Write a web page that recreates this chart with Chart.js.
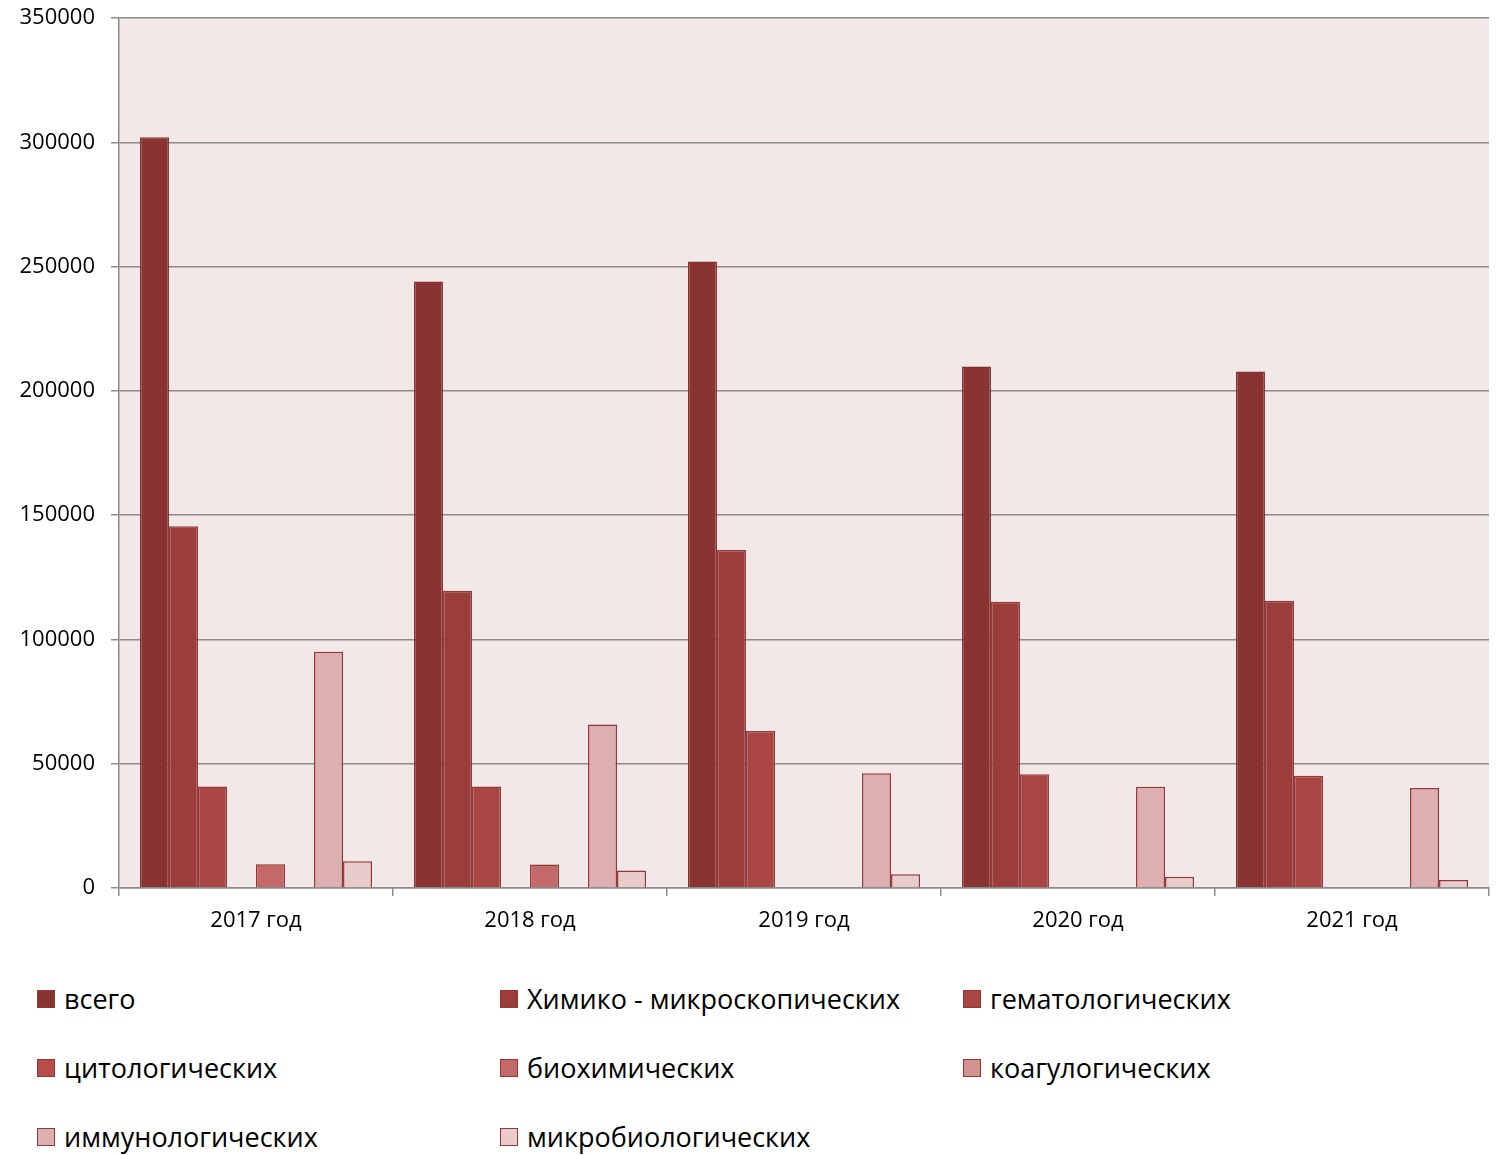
<!DOCTYPE html>
<html>
<head>
<meta charset="utf-8">
<script src="https://cdn.jsdelivr.net/npm/chart.js@4.4.1/dist/chart.umd.min.js"></script>
<style>
  body { margin: 0; background: #fff; font-family: "Open Sans", sans-serif; }
  .wrap { position: absolute; left: 0; top: 0; width: 1502px; height: 950px; }
  .legend { position: absolute; left: 0; top: 980px; width: 1502px; }
  .item { position: absolute; display: flex; align-items: center; font-size: 27px; color: #000; white-space: nowrap; }
  .box { width: 16px; height: 16px; margin-right: 9px; border: 1.5px solid #953735; }
</style>
</head>
<body>
<div class="wrap"><canvas id="chart"></canvas></div>
<div class="legend" id="legend"></div>
<script>
const years = ["2017 год", "2018 год", "2019 год", "2020 год", "2021 год"];
const seriesNames = ["всего", "Химико - микроскопических", "гематологических", "цитологических",
  "биохимических", "коагулогических", "иммунологических", "микробиологических"];
const total = [302000, 244000, 252000, 209800, 207800];
const chemMicro = [145500, 119600, 136000, 115200, 115600];
const hemat = [40800, 40800, 63200, 45800, 45200];
const cyto = [0, 0, 300, 300, 300];
const biochem = [9600, 9500, 0, 0, 0];
const coag = [0, 0, 0, 0, 0];
const immuno = [95000, 65800, 46200, 40700, 40200];
const microbio = [10800, 7000, 5500, 4500, 3200];
const yTicks = [0, 50000, 100000, 150000, 200000, 250000, 300000, 350000];

const fills = ["#893432", "#9B3D3B", "#A94543", "#B84C4A", "#C4696A", "#D39494", "#DDAFB0", "#E8CBCB"];
const borders = ["#84302E", "#92393A", "#96393A", "#953735", "#953735", "#953735", "#953735", "#953735"];
const values = [total, chemMicro, hemat, cyto, biochem, coag, immuno, microbio];

const plotBg = {
  id: "plotBg",
  beforeDraw(chart) {
    const a = chart.chartArea, c = chart.ctx;
    c.save();
    c.fillStyle = "#F2E8E8";
    c.fillRect(a.left, a.top, a.right - a.left, a.bottom - a.top);
    c.restore();
  }
};

new Chart(document.getElementById("chart"), {
  type: "bar",
  data: {
    labels: years,
    datasets: seriesNames.map((name, i) => ({
      label: name,
      data: values[i],
      backgroundColor: fills[i],
      borderColor: borders[i],
      borderWidth: 1.5,
      borderSkipped: "bottom",
      categoryPercentage: 0.847,
      barPercentage: 1.0,
    })),
  },
  options: {
    responsive: true,
    maintainAspectRatio: false,
    animation: false,
    layout: { padding: { top: 18, right: 13, left: 0, bottom: 0 } },
    plugins: { legend: { display: false }, tooltip: { enabled: false } },
    scales: {
      x: {
        grid: { offset: true, drawOnChartArea: false, drawTicks: true, tickLength: 8, color: "#8C8C8C", lineWidth: 1.5 },
        border: { color: "#8C8C8C", width: 1.5 },
        ticks: { color: "#000", font: { family: "Open Sans", size: 22 }, padding: 12 },
        afterFit(s) { s.height = 62; s.paddingLeft = 0; s.paddingRight = 0; },
      },
      y: {
        min: 0,
        max: 350000,
        afterBuildTicks(s) { s.ticks = yTicks.map(v => ({ value: v })); },
        grid: { color: "#8C8C8C", lineWidth: 1.5, tickLength: 8 },
        border: { color: "#8C8C8C", width: 1.5 },
        ticks: { color: "#000", font: { family: "Open Sans", size: 22 }, padding: 16, callback: v => String(v) },
        afterFit(s) { s.width = 119; s.paddingTop = 0; s.paddingBottom = 0; },
      },
    },
  },
  plugins: [plotBg],
});

// legend in three columns
const legendEl = document.getElementById("legend");
const colX = [37, 500, 963];
const rowY = [0, 69, 138];
seriesNames.forEach((name, i) => {
  const el = document.createElement("div");
  el.className = "item";
  el.style.left = colX[i % 3] + "px";
  el.style.top = rowY[Math.floor(i / 3)] + "px";
  el.innerHTML = '<span class="box" style="background:' + fills[i] + '"></span>' + name;
  legendEl.appendChild(el);
});
</script>
</body>
</html>
